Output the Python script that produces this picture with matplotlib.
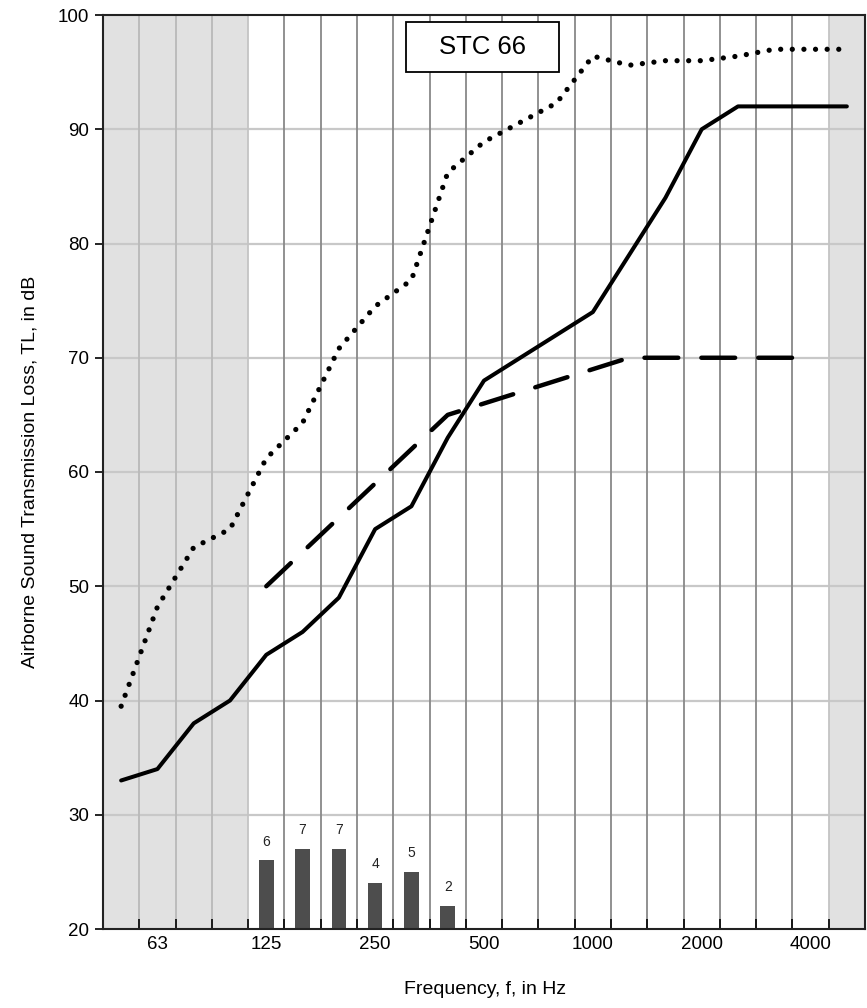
import matplotlib
matplotlib.use("Agg")
import matplotlib.pyplot as plt
from matplotlib.patches import Rectangle
import numpy as np

plt.rcParams['font.family'] = ['Liberation Sans', 'DejaVu Sans']

# ---- data ----
bands = ["50", "63", "80", "100", "125", "160", "200", "250", "315", "400",
         "500", "630", "800", "1000", "1250", "1600", "2000", "2500", "3150",
         "4000", "5000"]
tick_labels = ["63", "125", "250", "500", "1000", "2000", "4000"]

measured_tl = [33, 34, 38, 40, 44, 46, 49, 55, 57, 63, 68, 70, 72, 74, 79, 84,
               90, 92, 92, 92, 92]
upper_tl = [39.5, 48.2, 53.4, 55.0, 61.2, 64.3, 70.8, 74.5, 76.8, 86.2, 88.9,
            90.6, 92.3, 96.4, 95.6, 96.0, 96.0, 96.4, 97.0, 97.0, 97.0]
contour_bands = ["125", "160", "200", "250", "315", "400", "500", "630", "800",
                 "1000", "1250", "1600", "2000", "2500", "3150", "4000"]
contour_vals = [50, 53, 56, 59, 62, 65, 66, 67, 68, 69, 70, 70, 70, 70, 70, 70]
deficiency_bands = ["125", "160", "200", "250", "315", "400"]
deficiencies = [6, 7, 7, 4, 5, 2]
stc_label = "STC 66"
base_db = 20

idx = {b: i for i, b in enumerate(bands)}
x_all = np.arange(len(bands))
x_contour = np.array([idx[b] for b in contour_bands])
x_def = np.array([idx[b] for b in deficiency_bands])

fig = plt.figure(figsize=(8.67, 10.08), dpi=100)
ax = fig.add_axes([103/867, 1-929/1008, 762/867, 914/1008])

ax.set_xlim(-0.5, len(bands) - 0.5)
ax.set_ylim(20, 100)

# shaded regions
ax.axvspan(-0.5, 3.5, color="#e1e1e1", zorder=0, lw=0)
ax.axvspan(19.5, 20.5, color="#e1e1e1", zorder=0, lw=0)

# horizontal grid
for yv in range(30, 100, 10):
    ax.axhline(yv, color="#c8c8c8", lw=1.6, zorder=1)
# vertical grid at band boundaries
for b in np.arange(0.5, len(bands) - 0.5, 1.0):
    if b < 3.4:
        c = "#b9b9b9"
    elif abs(b - 3.5) < 0.01 or abs(b - 19.5) < 0.01:
        c = "#c4c4c4"
    else:
        c = "#888888"
    ax.axvline(b, color=c, lw=1.3, zorder=1.5)

# deficiency bars
ax.bar(x_def, deficiencies, width=0.4, bottom=base_db, color="#4d4d4d",
       zorder=2)
for xv, d in zip(x_def, deficiencies):
    ax.text(xv, base_db + d + 1.3, str(d), ha="center", va="baseline",
            fontsize=10, color="#222222", zorder=3)

# lines
ax.plot(x_all, upper_tl, color="black", lw=3.8,
        linestyle=(0, (0.001, 2.2)), dash_capstyle="round", zorder=4)
ax.plot(x_all, measured_tl, color="black", lw=2.9, solid_capstyle="round",
        solid_joinstyle="round", zorder=4)
ax.plot(x_contour, contour_vals, color="black", lw=3.2,
        linestyle=(0, (7.6, 5.2)), dash_capstyle="round", zorder=4)

# STC box
ax.add_patch(Rectangle((7.84, 94.98), 4.24, 4.43, facecolor="white",
                       edgecolor="black", lw=1.3, zorder=5))
ax.text(9.96, 97.2, stc_label, ha="center", va="center", fontsize=18.5,
        zorder=6)

# ticks
ax.set_yticks(range(20, 101, 10))
ax.tick_params(axis="y", direction="out", length=6, width=1.2,
               labelsize=13.5, pad=4)
ax.set_xticks(np.arange(0.5, len(bands) - 0.5, 1.0))
ax.set_xticklabels([])
ax.tick_params(axis="x", which="major", direction="in", length=7, width=1.2)
ax.set_xticks([idx[t] for t in tick_labels], minor=True)
ax.set_xticklabels(tick_labels, minor=True)
ax.tick_params(axis="x", which="minor", length=0, labelsize=13.5, pad=5)

for s in ax.spines.values():
    s.set_color("#222222")
    s.set_linewidth(1.5)
    s.set_zorder(7)

fig.text(30/867, 1-472/1008, "Airborne Sound Transmission Loss, TL, in dB",
         rotation=90, ha="center", va="center", fontsize=14)
fig.text(485/867, 1-990/1008, "Frequency, f, in Hz", ha="center",
         va="center", fontsize=14)

fig.savefig("out.png", dpi=100)
